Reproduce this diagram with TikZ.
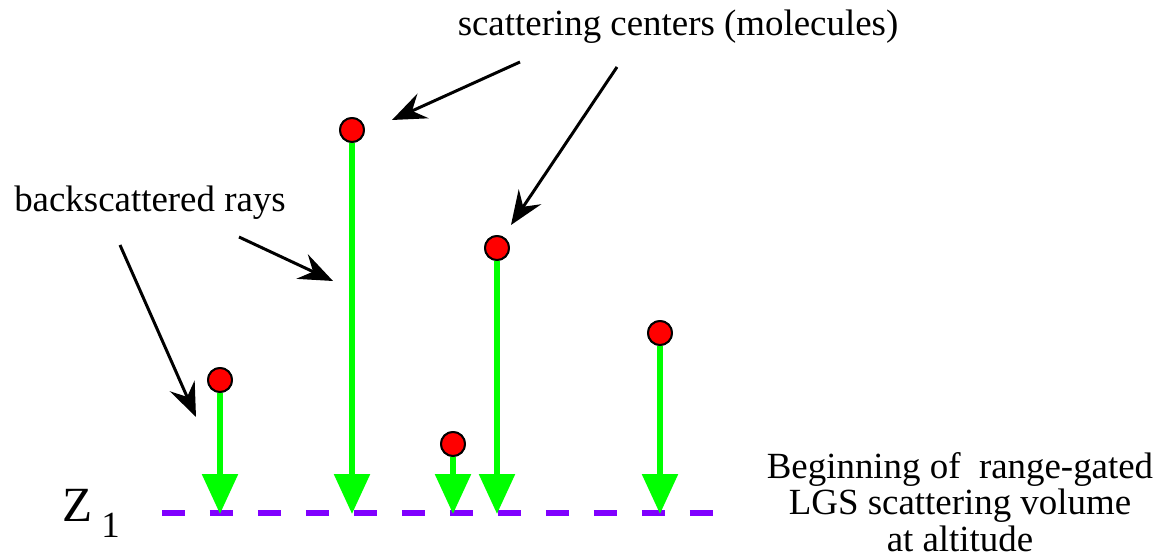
\documentclass[tikz,border=0pt]{standalone}
\usepackage{fontspec}
\setmainfont{Liberation Serif}
\usetikzlibrary{arrows.meta}
\definecolor{RayGreen}{HTML}{00FF00}
\definecolor{DotRed}{HTML}{FF0000}
\definecolor{GateViolet}{HTML}{8000FF}

\begin{document}
\begin{tikzpicture}[
  x=0.02cm,
  y=-0.02cm,
  molecule/.style={
    circle,
    draw=black,
    line width=1.1pt,
    fill=DotRed,
    minimum size=0.48cm,
    inner sep=0pt
  },
  ray/.style={-{Triangle[length=8mm,width=7mm]},line width=3.3pt,color=RayGreen},
  pointer/.style={-{Stealth[length=6.8mm,width=5.4mm,inset=2.4mm]},line width=1.7pt},
  gate/.style={color=GateViolet,line width=3.2pt,dash pattern=on 0.46cm off 0.5cm},
  label/.style={font=\fontsize{21}{20.7}\selectfont,inner sep=0pt}
]
\useasboundingbox (0,0) rectangle (1164,560);

% range gate
\coordinate (gatestart) at (162,513);
\coordinate (gateend) at (713,513);
\draw[gate] (gatestart) -- (gateend);

% scattering centers
\node[molecule] (mol1) at (220,380) {};
\node[molecule] (mol2) at (352,130) {};
\node[molecule] (mol3) at (453,444) {};
\node[molecule] (mol4) at (497,248) {};
\node[molecule] (mol5) at (660,333) {};

% backscattered rays down to the gate
\foreach \m/\x in {1/220,2/352,3/453,4/497,5/660}{
  \coordinate (hit\m) at (\x,514);
  \draw[ray] (mol\m.south) -- (hit\m);
}
\foreach \m in {1,...,5}{
  \node[molecule] at (mol\m) {};
}

% labels
\node[label] (centers) at (678,27) {scattering centers (molecules)};
\node[label] (rays) at (150,203) {backscattered rays};
\node[anchor=base west,inner sep=0pt,font=\fontsize{28}{28}\selectfont] (zlabel) at (62,522)
  {Z\hspace{0.18cm}\raisebox{-0.32cm}{\fontsize{21}{21}\selectfont 1}};
\node[label,align=center,anchor=north] (gatelabel) at (960,452)
  {Beginning of\ \ range-gated\\LGS scattering volume\ \ \\at altitude};

% pointers
\coordinate (ctail1) at (520,62);
\coordinate (ctip1) at (392,120);
\coordinate (ctail2) at (617,67);
\coordinate (ctip2) at (511,225);
\coordinate (rtail1) at (120,245);
\coordinate (rtip1) at (196,417);
\coordinate (rtail2) at (239,237);
\coordinate (rtip2) at (333,281);
\draw[pointer] (ctail1) -- (ctip1);
\draw[pointer] (ctail2) -- (ctip2);
\draw[pointer] (rtail1) -- (rtip1);
\draw[pointer] (rtail2) -- (rtip2);
\end{tikzpicture}
\end{document}
